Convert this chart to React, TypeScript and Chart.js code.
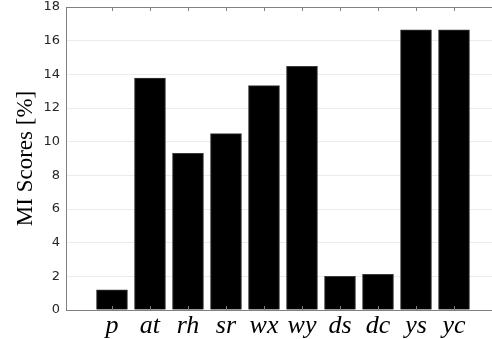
import React, { useEffect, useRef } from "react";
import { Chart, registerables } from "chart.js";

Chart.register(...registerables);

const categories = ["p", "at", "rh", "sr", "wx", "wy", "ds", "dc", "ys", "yc"];
const miScores = [1.2, 13.78, 9.31, 10.48, 13.33, 14.48, 2.0, 2.12, 16.64, 16.64];
const yTicks = [0, 2, 4, 6, 8, 10, 12, 14, 16, 18];
const xMin = -0.21;
const xMax = 11;
const yMin = 0;
const yMax = 18;
const yTitle = "MI Scores [%]";

const AXIS = "#808080";

const frame = {
  id: "frame",
  afterDatasetsDraw(chart: any) {
    const { ctx, chartArea, scales } = chart;
    const x = scales.x;
    ctx.save();
    ctx.strokeStyle = AXIS;
    ctx.lineWidth = 1;
    ctx.beginPath();
    ctx.moveTo(chartArea.left, chartArea.top + 0.5);
    ctx.lineTo(chartArea.right, chartArea.top + 0.5);
    for (let i = 0; i < categories.length; i++) {
      const px = Math.round(x.getPixelForValue(i + 1)) + 0.5;
      ctx.moveTo(px, chartArea.top);
      ctx.lineTo(px, chartArea.top + 4);
      ctx.moveTo(px, chartArea.bottom);
      ctx.lineTo(px, chartArea.bottom - 4);
    }
    ctx.stroke();
    ctx.restore();
  },
};

export default function App() {
  const ref = useRef<HTMLCanvasElement | null>(null);
  useEffect(() => {
    if (!ref.current) return;
    const chart = new Chart(ref.current, {
      type: "bar",
      data: {
        datasets: [
          {
            data: miScores.map((v, i) => ({ x: i + 1, y: v })),
            backgroundColor: "#000000",
            borderColor: "#3a3a3a",
            borderWidth: 1,
            barThickness: 31,
          },
        ],
      },
      options: {
        animation: false,
        responsive: true,
        maintainAspectRatio: false,
        layout: { padding: { top: 7, right: 0, left: 0, bottom: 0 } },
        plugins: { legend: { display: false }, tooltip: { enabled: false } },
        scales: {
          x: {
            type: "linear",
            offset: false,
            min: xMin,
            max: xMax,
            grid: { display: false, drawTicks: false },
            border: { display: true, color: AXIS },
            afterBuildTicks: (s: any) => {
              s.ticks = categories.map((_, i) => ({ value: i + 1 }));
            },
            afterFit: (s: any) => {
              s.height = 29;
              s.paddingLeft = 0;
              s.paddingRight = 0;
            },
            ticks: {
              autoSkip: false,
              maxRotation: 0,
              padding: 1,
              color: "#000000",
              font: { family: "'Liberation Serif', serif", style: "italic", size: 26 },
              callback: (v: any) => categories[Math.round(Number(v)) - 1] ?? "",
            },
          },
          y: {
            type: "linear",
            min: yMin,
            max: yMax,
            afterBuildTicks: (s: any) => {
              s.ticks = yTicks.map((v) => ({ value: v }));
            },
            afterFit: (s: any) => {
              s.width = 66;
              s.paddingTop = 0;
              s.paddingBottom = 0;
            },
            grid: { color: "#ebebeb", drawTicks: false },
            border: { display: true, color: AXIS },
            ticks: {
              padding: 6,
              color: "#262626",
              font: { family: "'DejaVu Sans', sans-serif", size: 13 },
            },
            title: {
              display: true,
              text: yTitle,
              color: "#000000",
              font: { family: "'Liberation Serif', serif", size: 23 },
              padding: { top: 12, bottom: 0 },
            },
          },
        },
      },
      plugins: [frame],
    });
    return () => chart.destroy();
  }, []);
  return (
    <div style={{ position: "fixed", left: 0, top: 0, width: 492, height: 339, background: "#fff" }}>
      <canvas ref={ref} />
    </div>
  );
}
